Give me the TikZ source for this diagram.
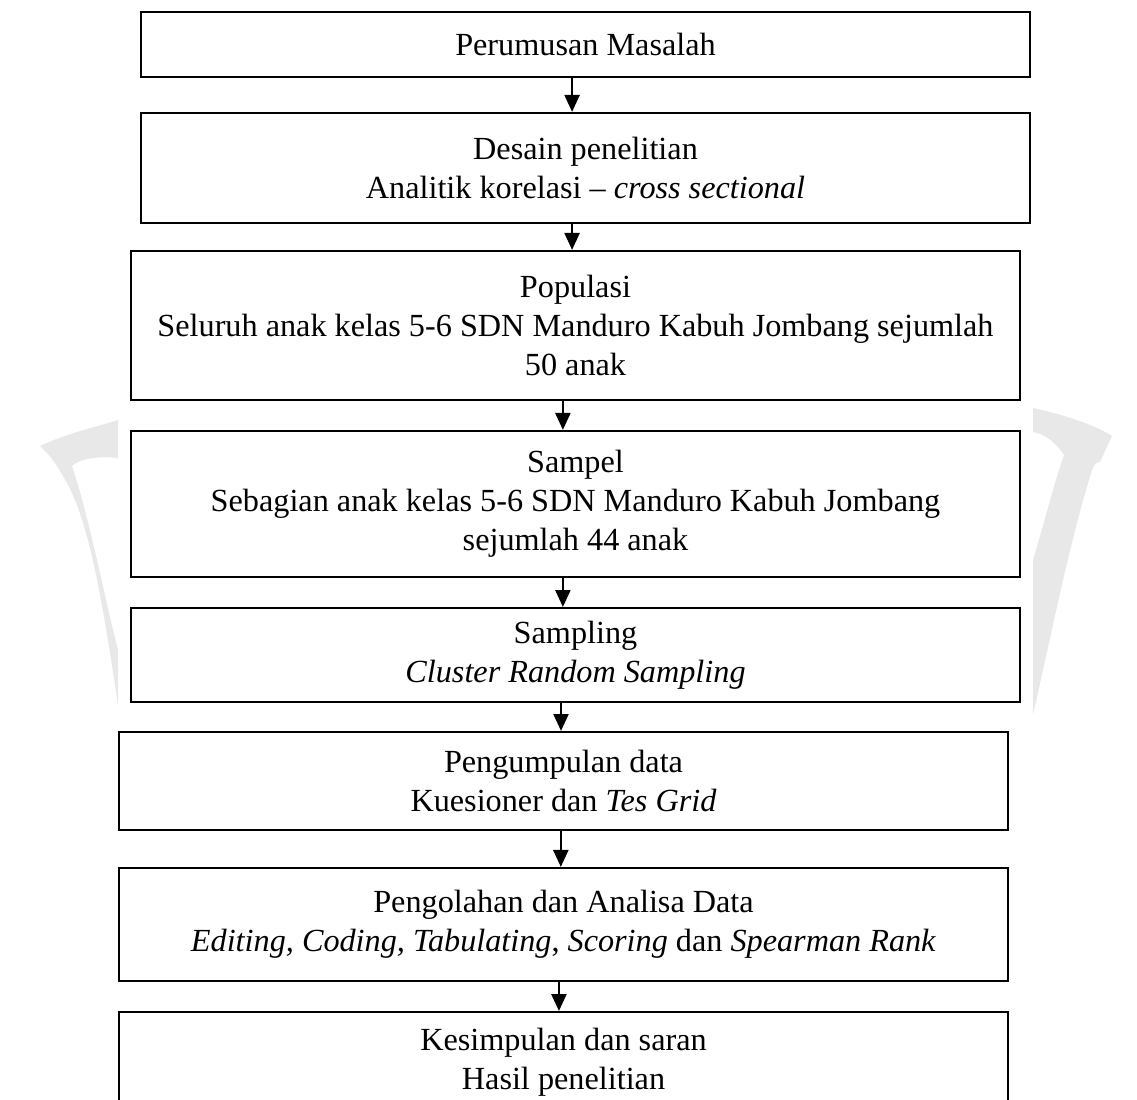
\documentclass[tikz,border=0pt]{standalone}
\usepackage{fontspec}
\setmainfont{Liberation Serif}
\usepackage{tikz}
\usetikzlibrary{positioning, arrows.meta}

\begin{document}
\begin{tikzpicture}[
        x=0.3723pt, y=-0.3723pt,
        tahap/.style={draw, line width=0.8pt, fill=white, align=center,
                      minimum width=331pt, inner sep=2pt,
                      font=\fontsize{12}{14.5}\selectfont},
        wmark/.style={fill=black!9, draw=none},
        arr/.style={-{Triangle[length=6.3pt, width=5.6pt]}, line width=0.8pt}]

      \useasboundingbox (0,0) rectangle (1137,1099);

      % watermark
      \fill[wmark] (40,446) .. controls (70,432) and (100,426) .. (118,420) -- (118,458)
        .. controls (100,456) and (80,458) .. (72,466)
        .. controls (90,520) and (105,600) .. (118,650) -- (118,705)
        .. controls (105,620) and (92,530) .. (68,485)
        .. controls (58,466) and (50,455) .. (40,446) -- cycle;
      \fill[wmark] (1033,408) .. controls (1065,415) and (1095,425) .. (1112,436) -- (1100,462)
        .. controls (1096,462) and (1094,465) .. (1092,470)
        .. controls (1070,540) and (1050,640) .. (1033,715) -- (1033,560)
        .. controls (1045,520) and (1055,480) .. (1064,455)
        .. controls (1055,442) and (1045,434) .. (1033,432) -- cycle;

      \node[tahap, minimum height=24.2pt] (masalah) at (585.5,44.5) {Perumusan Masalah};
      \node[tahap, minimum height=41pt] (desain) at (585.5,168)
        {Desain penelitian\\Analitik korelasi -- \textit{cross sectional}};
      \node[tahap, minimum height=55.5pt] (populasi) at (575.5,325.5)
        {Populasi\\Seluruh anak kelas 5-6 SDN Manduro Kabuh Jombang sejumlah\\50 anak};
      \node[tahap, minimum height=54.4pt] (sampel) at (575.5,504)
        {Sampel\\Sebagian anak kelas 5-6 SDN Manduro Kabuh Jombang\\sejumlah 44 anak};
      \node[tahap, minimum height=35pt] (sampling) at (575.5,655)
        {Sampling\\\textit{Cluster Random Sampling}};
      \node[tahap, minimum height=36.5pt] (kumpul) at (563.5,781)
        {Pengumpulan data\\Kuesioner dan \textit{Tes Grid}};
      \node[tahap, minimum height=42.1pt] (olah) at (563.5,924.5)
        {Pengolahan dan Analisa Data\\\textit{Editing, Coding, Tabulating}, \textit{Scoring} dan \textit{Spearman Rank}};
      \node[tahap, minimum height=37.2pt] (simpul) at (563.5,1062)
        {Kesimpulan dan saran\\Hasil penelitian};

      \draw[arr] ([xshift=-5pt]masalah.south) -- ([xshift=-5pt]masalah.south |- desain.north);
      \draw[arr] ([xshift=-5pt]desain.south) -- ([xshift=-5pt]desain.south |- populasi.north);
      \draw[arr] ([xshift=-4.7pt]populasi.south) -- ([xshift=-4.7pt]populasi.south |- sampel.north);
      \draw[arr] ([xshift=-4.7pt]sampel.south) -- ([xshift=-4.7pt]sampel.south |- sampling.north);
      \draw[arr] ([xshift=-5.4pt]sampling.south) -- ([xshift=-5.4pt]sampling.south |- kumpul.north);
      \draw[arr] ([xshift=-1pt]kumpul.south) -- ([xshift=-1pt]kumpul.south |- olah.north);
      \draw[arr] ([xshift=-1.7pt]olah.south) -- ([xshift=-1.7pt]olah.south |- simpul.north);
    \end{tikzpicture}
\end{document}
